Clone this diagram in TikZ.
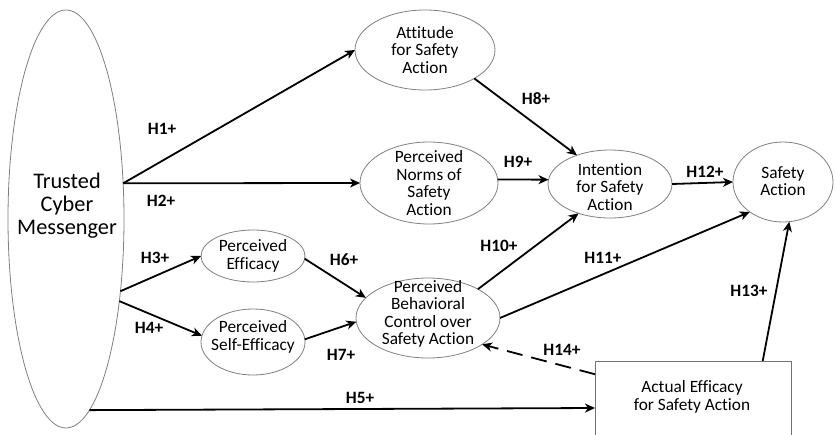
\documentclass[tikz,border=0pt]{standalone}
\usepackage{fontspec}
\setmainfont[Ligatures=NoCommon]{Carlito}
\usetikzlibrary{shapes.geometric,arrows.meta}
\begin{document}
\begin{tikzpicture}[x=1pt,y=-1pt,
  ell/.style={ellipse,draw=black!50,line width=0.8pt,inner sep=0pt,outer sep=0pt},
  boxst/.style={rectangle,draw=black!55,line width=0.8pt,inner sep=0pt,outer sep=0pt,minimum width=196pt,minimum height=94pt},
  txt/.style={align=center,font=\fontsize{17.3}{17.5}\selectfont,inner sep=0pt},
  bigtxt/.style={align=center,font=\fontsize{22.3}{23}\selectfont,inner sep=0pt},
  hyp/.style={font=\fontsize{17.3}{18}\selectfont\bfseries,inner sep=0pt},
  arr/.style={line width=1.8pt,-{Stealth[length=10pt,width=9pt,inset=3pt]}},
  darr/.style={arr,dash pattern=on 16pt off 9pt}]
\clip (0,0) rectangle (835,434);
\fill[white] (0,0) rectangle (835,434);
% nodes
\node[ell,minimum width=116pt,minimum height=418pt] (tcm) at (66,219) {};
\node[bigtxt] (tcmT) at (67,206) {Trusted\\Cyber\\Messenger};
\node[ell,minimum width=140pt,minimum height=80pt] (att) at (425,50) {};
\node[txt] (attT) at (425,50) {Attitude\\for Safety\\Action};
\node[ell,minimum width=138pt,minimum height=82pt] (norm) at (429,183) {};
\node[txt] (normT) at (429,183) {Perceived\\Norms of\\Safety\\Action};
\node[ell,minimum width=124pt,minimum height=68pt] (int) at (610,184) {};
\node[txt] (intT) at (610,187) {Intention\\for Safety\\Action};
\node[ell,minimum width=100pt,minimum height=80pt] (sa) at (783,182) {};
\node[txt] (saT) at (783,181) {Safety\\Action};
\node[ell,minimum width=104pt,minimum height=52pt] (eff) at (253,256) {};
\node[txt] (effT) at (253,256) {Perceived\\Efficacy};
\node[ell,minimum width=104pt,minimum height=66pt] (self) at (253,342) {};
\node[txt] (selfT) at (253,337) {Perceived\\Self-Efficacy};
\node[ell,minimum width=144pt,minimum height=80pt] (pbc) at (428,318) {};
\node[txt] (pbcT) at (428,314) {Perceived\\Behavioral\\Control over\\Safety Action};
\node[boxst] (box) at (693,408) {};
\node[txt] (boxT) at (692,397) {Actual Efficacy\\for Safety Action};
% connectors
\draw[arr] (tcm.32) -- (att.west);
\draw[arr] (tcm.32) -- (norm.west);
\draw[arr] (tcm.-53.5) -- (eff.west);
\draw[arr] (tcm.-57.4) -- (self.173);
\draw[arr] (tcm.-83) -- (box.west);
\draw[arr] (eff.-3) -- (pbc.162);
\draw[arr] (self.3) -- (pbc.183);
\draw[arr] (att.-30) -- (int.139);
\draw[arr] (norm.3) -- (int.176);
\draw[arr] (pbc.30) -- (int.223);
\draw[arr] (pbc.east) -- (sa.222);
\draw[arr] (int.east) -- (sa.west);
\draw[arr] (box.34.3) -- (sa.-81.5);
\draw[darr] (box.161.4) -- (pbc.-26.6);
% labels
\node[hyp] (h1) at (162,129) {H1+};
\node[hyp] (h2) at (161,201) {H2+};
\node[hyp] (h3) at (155,258) {H3+};
\node[hyp] (h4) at (149,328) {H4+};
\node[hyp] (h5) at (360,398) {H5+};
\node[hyp] (h6) at (344,260) {H6+};
\node[hyp] (h7) at (341,355) {H7+};
\node[hyp] (h8) at (536,99) {H8+};
\node[hyp] (h9) at (518,162) {H9+};
\node[hyp] (h10) at (499,246) {H10+};
\node[hyp] (h11) at (603,258) {H11+};
\node[hyp] (h12) at (705,172) {H12+};
\node[hyp] (h13) at (749,291) {H13+};
\node[hyp] (h14) at (562,350) {H14+};
\end{tikzpicture}
\end{document}
